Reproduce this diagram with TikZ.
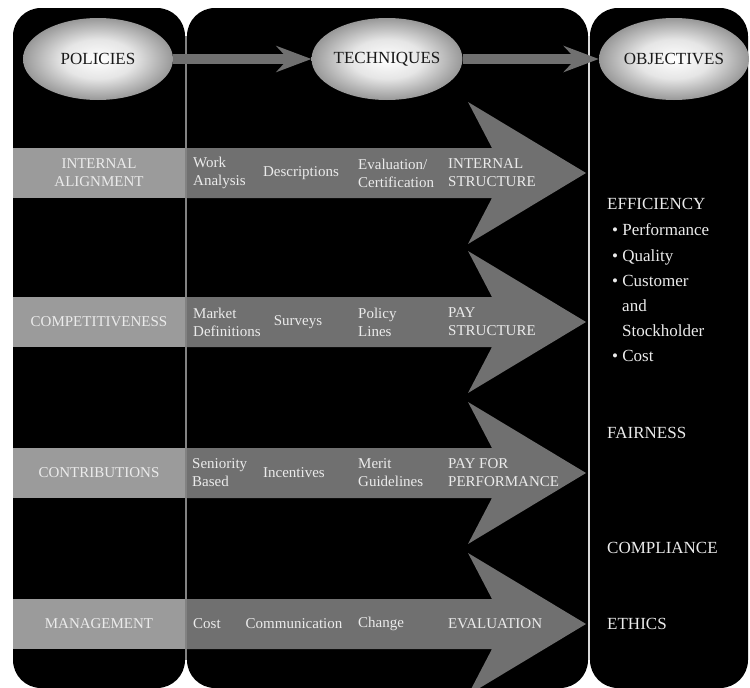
\documentclass[tikz,border=0pt]{standalone}
\usepackage{fontspec}
\setmainfont{Liberation Serif}
\usetikzlibrary{shapes.geometric,arrows.meta}
\definecolor{bandL}{RGB}{155,155,155}
\definecolor{arrG}{RGB}{112,112,112}
\definecolor{txtL}{RGB}{235,235,235}
\definecolor{divG}{RGB}{130,130,130}
\pgfdeclareradialshading{ellshade}{\pgfpoint{0bp}{0bp}}{%
  color(0bp)=(white); color(12bp)=(white!90!black); color(24bp)=(black!38);
  color(34bp)=(black!62); color(50bp)=(black!62)}
\begin{document}
\begin{tikzpicture}[x=1pt,y=-1pt,
  panel/.style={fill=black, rounded corners=28pt},
  ell/.style={ellipse, minimum width=150pt, minimum height=82pt, inner sep=0pt,
    shading=ellshade, text=black!90,
    font=\fontsize{17}{20}\selectfont},
  conn/.style={line width=10pt, draw=arrG, -{Stealth[length=35pt,width=26pt,inset=12pt]}},
  rt/.style={text=txtL, font=\fontsize{15}{18}\selectfont, inner sep=0pt, align=left, anchor=west},
  rc/.style={text=txtL, font=\fontsize{15}{18}\selectfont, inner sep=0pt, align=center, anchor=center},
  ot/.style={text=txtL, font=\fontsize{17}{20}\selectfont, inner sep=0pt, anchor=base west}]
\useasboundingbox (0,0) rectangle (750,688);
\clip (0,0) rectangle (750,688);
\fill[white] (0,0) rectangle (750,688);
% panels
\fill[panel] (13,8) rectangle (185,688);
\fill[panel] (187,8) rectangle (588,688);
\fill[panel] (590,8) rectangle (748,688);
\draw[divG, line width=1.5pt] (186,36) -- (186,660);
\draw[black!15, line width=1.5pt] (589,36) -- (589,660);
% rows
\foreach \c in {173,322,473,624} {
  \fill[bandL] (13,\c-25) rectangle (185,\c+25);
  \fill[arrG] (187,\c-25) -- (492,\c-25) -- (468,\c-71) -- (586,\c)
     -- (468,\c+71) -- (492,\c+25) -- (187,\c+25) -- cycle;
}
% ellipses
\node[ell] (pol) at (98,59) {POLICIES};
\node[ell] (tech) at (387,59) {TECHNIQUES};
\node[ell] (obj) at (674,59) {OBJECTIVES};
\draw[conn] (pol) -- (tech);
\draw[conn] (tech) -- (obj);
% row 1
\node[rc] (p1) at (99,173) {INTERNAL\\ALIGNMENT};
\node[rt] (a1) at (193,173) {Work\\Analysis};
\node[rc] (b1) at (301,173) {Descriptions};
\node[rt] (c1) at (358,173) {Evaluation/\\Certification};
\node[rt] (d1) at (448,173) {INTERNAL\\STRUCTURE};
% row 2
\node[rc] (p2) at (99,322) {COMPETITIVENESS};
\node[rt] (a2) at (193,322) {Market\\Definitions};
\node[rc] (b2) at (298,322) {Surveys};
\node[rt] (c2) at (358,322) {Policy\\Lines};
\node[rt] (d2) at (448,322) {PAY\\STRUCTURE};
% row 3
\node[rc] (p3) at (99,473) {CONTRIBUTIONS};
\node[rt] (a3) at (192,473) {Seniority\\Based};
\node[rc] (b3) at (294,473) {Incentives};
\node[rt] (c3) at (358,473) {Merit\\Guidelines};
\node[rt] (d3) at (448,473) {PAY FOR\\PERFORMANCE};
% row 4
\node[rc] (p4) at (99,624) {MANAGEMENT};
\node[rt] (a4) at (193,624) {Cost};
\node[rc] (b4) at (294,624) {Communication};
\node[rt] (c4) at (358,624) {Change};
\node[rt] (d4) at (448,624) {EVALUATION};
% objectives
\node[ot] (eff) at (607,209) {EFFICIENCY};
\node[ot] (perf) at (612,235) {• Performance};
\node[ot] (qual) at (612,261) {• Quality};
\node[ot] (cust) at (612,286) {• Customer};
\node[ot] (andw) at (622,311) {and};
\node[ot] (stock) at (622,336) {Stockholder};
\node[ot] (cost) at (612,361) {• Cost};
\node[ot] (fair) at (607,438) {FAIRNESS};
\node[ot] (comp) at (607,553) {COMPLIANCE};
\node[ot] (eth) at (607,629) {ETHICS};
\end{tikzpicture}
\end{document}
